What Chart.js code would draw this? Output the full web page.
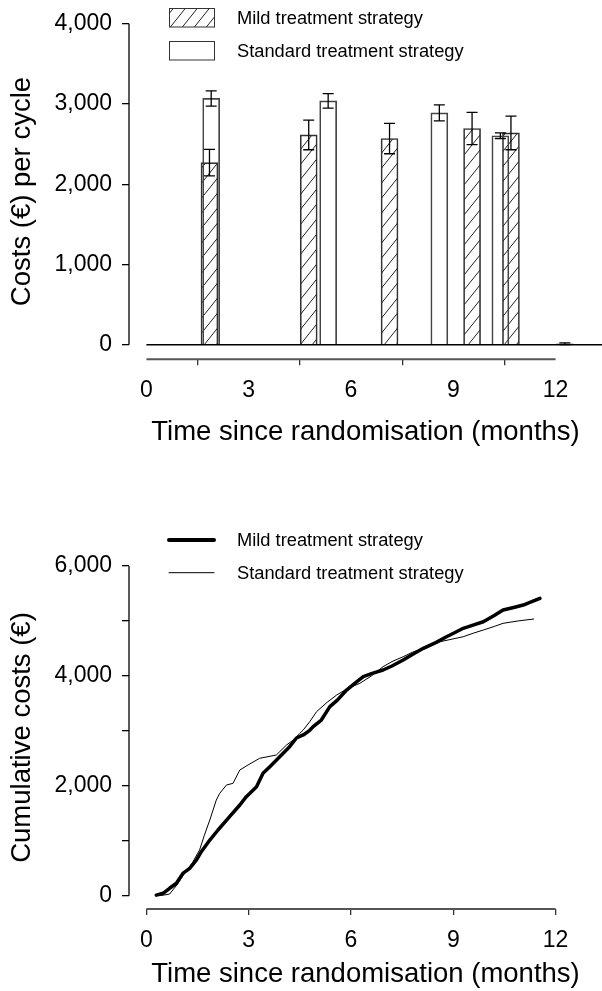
<!DOCTYPE html>
<html>
<head>
<meta charset="utf-8">
<script src="https://cdn.jsdelivr.net/npm/chart.js@4/dist/chart.umd.min.js"></script>
<style>
    html, body { margin: 0; padding: 0; background: #fff; }
    #wrap1 { position: absolute; left: 0; top: 0; width: 602px; height: 455px; }
    #wrap2 { position: absolute; left: 0; top: 455px; width: 602px; height: 536px; }
</style>
</head>
<body>
<div id="wrap1"><canvas id="costChart"></canvas></div>
<div id="wrap2"><canvas id="cumChart"></canvas></div>
<script>
// costs per cycle (top panel)
const mildMonths = [1.85, 4.76, 7.13, 9.55, 10.69, 12.27];
const mildCosts = [2270, 2615, 2570, 2695, 2640, 12];
const mildErr = [165, 185, 190, 200, 210, 10];
const stdMonths = [1.90, 5.33, 8.59, 10.38];
const stdCosts = [3070, 3040, 2890, 2605];
const stdErr = [95, 90, 100, 35];

// cumulative costs (bottom panel)
const mildTime = [0.29, 0.49, 0.68, 0.88, 1.07, 1.27, 1.47, 1.61, 1.86, 2.1, 2.44, 2.74, 2.93, 3.23, 3.42, 3.62, 3.91, 4.2, 4.4, 4.6, 4.79, 4.89, 5.13, 5.38, 5.6, 5.87, 6.1, 6.36, 6.6, 6.94, 7.2, 7.53, 7.8, 8.12, 8.5, 8.8, 9.05, 9.29, 9.6, 9.88, 10.2, 10.46, 10.8, 11.05, 11.3, 11.54];
const mildCum = [10, 44, 135, 226, 407, 499, 650, 801, 1013, 1196, 1438, 1651, 1802, 1984, 2227, 2348, 2530, 2712, 2870, 2925, 3010, 3076, 3197, 3440, 3560, 3743, 3860, 3986, 4040, 4107, 4180, 4289, 4390, 4502, 4610, 4713, 4790, 4866, 4930, 4986, 5100, 5199, 5250, 5290, 5350, 5412];
const stdTime = [0.35, 0.5, 0.68, 0.9, 1.12, 1.35, 1.56, 1.7, 1.86, 2.05, 2.15, 2.35, 2.54, 2.74, 2.98, 3.32, 3.81, 4.11, 4.3, 4.5, 4.6, 4.79, 4.99, 5.3, 5.58, 5.9, 6.26, 6.6, 6.94, 7.2, 7.53, 7.8, 8.12, 8.61, 9.29, 9.6, 9.88, 10.2, 10.46, 10.9, 11.37];
const stdCum = [0, 10, 30, 200, 407, 600, 832, 1100, 1378, 1741, 1863, 2015, 2045, 2288, 2379, 2500, 2560, 2743, 2830, 2955, 3016, 3167, 3349, 3520, 3652, 3770, 3865, 4000, 4168, 4260, 4349, 4430, 4502, 4622, 4713, 4780, 4835, 4900, 4957, 5000, 5036];

const xTicks = [0, 3, 6, 9, 12];
const costTicks = [0, 1000, 2000, 3000, 4000];
const cumTicks = [0, 1000, 2000, 3000, 4000, 5000, 6000];

const labelMild = 'Mild treatment strategy';
const labelStd = 'Standard treatment strategy';
const xTitle = 'Time since randomisation (months)';

const FONT = "'Liberation Sans', Arial, sans-serif";

function makeHatch() {
    const c = document.createElement('canvas');
    c.width = 12; c.height = 15;
    const g = c.getContext('2d');
    g.strokeStyle = '#222';
    g.lineWidth = 1;
    g.beginPath();
    g.moveTo(0, 15); g.lineTo(12, 0);
    g.moveTo(-12, 15); g.lineTo(0, 0);
    g.moveTo(12, 15); g.lineTo(24, 0);
    g.stroke();
    return g.createPattern(c, 'repeat');
}
const hatch = makeHatch();

// axis lines only over the labelled range (R style)
const axisLines = {
    id: 'axisLines',
    afterDraw(chart, args, opts) {
        const { ctx, chartArea, scales: { x, y } } = chart;
        ctx.save();
        ctx.strokeStyle = '#000';
        ctx.lineWidth = 1.3;
        ctx.beginPath();
        ctx.moveTo(chartArea.left, y.getPixelForValue(opts.yMin));
        ctx.lineTo(chartArea.left, y.getPixelForValue(opts.yMax));
        ctx.stroke();
        ctx.strokeStyle = '#555';
        ctx.lineWidth = 2;
        ctx.beginPath();
        ctx.moveTo(x.getPixelForValue(opts.xMin), chartArea.bottom);
        ctx.lineTo(x.getPixelForValue(opts.xMax), chartArea.bottom);
        ctx.stroke();
        ctx.restore();
    }
};

const errorBars = {
    id: 'errorBars',
    afterDatasetsDraw(chart) {
        const { ctx, scales: { x, y } } = chart;
        chart.data.datasets.forEach(ds => {
            if (!ds.errors) return;
            ctx.save();
            ctx.strokeStyle = '#000';
            ctx.lineWidth = 1.3;
            ds.data.forEach((p, j) => {
                const e = ds.errors[j];
                const px = x.getPixelForValue(p.x);
                const top = y.getPixelForValue(p.y + e);
                const bot = y.getPixelForValue(p.y - e);
                ctx.beginPath();
                ctx.moveTo(px, top); ctx.lineTo(px, bot);
                ctx.moveTo(px - 5.5, top); ctx.lineTo(px + 5.5, top);
                ctx.moveTo(px - 5.5, bot); ctx.lineTo(px + 5.5, bot);
                ctx.stroke();
            });
            ctx.restore();
        });
    }
};

// legend drawn in the top left of the plot, like the original
const boxLegend = {
    id: 'boxLegend',
    afterDraw(chart, args, opts) {
        const ctx = chart.ctx;
        ctx.save();
        ctx.font = '18.3px ' + FONT;
        ctx.fillStyle = '#000';
        ctx.textBaseline = 'middle';
        opts.items.forEach(it => {
            if (it.kind === 'box') {
                ctx.fillStyle = it.fill;
                ctx.fillRect(169, it.y - 9, 45, 18.5);
                ctx.strokeStyle = '#333';
                ctx.lineWidth = 1;
                ctx.strokeRect(169.5, it.y - 9, 45, 18.5);
            } else {
                ctx.strokeStyle = '#000';
                ctx.lineWidth = it.width;
                ctx.lineCap = 'round';
                ctx.beginPath();
                ctx.moveTo(169, it.y); ctx.lineTo(214, it.y);
                ctx.stroke();
            }
            ctx.fillStyle = '#000';
            ctx.fillText(it.text, 237, it.y + 1);
        });
        ctx.restore();
    }
};

function xScale(height, titlePad) {
    return {
        type: 'linear',
        min: -0.51, max: 13.36,
        offset: false,
        afterBuildTicks: s => { s.ticks = xTicks.map(v => ({ value: v })); },
        afterFit: s => { s.height = height; },
        border: { display: false },
        grid: { drawOnChartArea: false, tickLength: 6, color: '#333', lineWidth: 1.3 },
        ticks: { autoSkip: false, maxRotation: 0, padding: 12, color: '#000', font: { family: FONT, size: 23 } },
        title: { display: true, text: xTitle, color: '#000', font: { family: FONT, size: 27.5 }, padding: { top: 0, bottom: titlePad } }
    };
}

function yScale(min, max, tickVals, yTitle, labelEvery) {
    return {
        min: min, max: max,
        afterBuildTicks: s => { s.ticks = tickVals.map(v => ({ value: v })); },
        afterFit: s => { s.width = 129; },
        border: { display: false },
        grid: { drawOnChartArea: false, tickLength: 7, color: '#000', lineWidth: 1.3 },
        ticks: {
            autoSkip: false, padding: 10, color: '#000', font: { family: FONT, size: 23 },
            callback: v => (v % labelEvery === 0 ? v.toLocaleString('en-US') : '')
        },
        title: { display: true, text: yTitle, color: '#000', font: { family: FONT, size: 27.5 }, padding: { top: 6, bottom: 0 } }
    };
}

new Chart(document.getElementById('costChart'), {
    data: {
        datasets: [
            {
                type: 'line', label: 'zero',
                data: [{ x: 0, y: 0 }, { x: 13.36, y: 0 }],
                borderColor: '#000', borderWidth: 1.5, pointRadius: 0, order: 3
            },
            {
                type: 'bar', label: labelStd,
                data: stdMonths.map((m, i) => ({ x: m, y: stdCosts[i] })),
                errors: stdErr,
                backgroundColor: 'rgba(255,255,255,0)', borderColor: '#444', borderWidth: 1,
                barThickness: 17, grouped: false, order: 1
            },
            {
                type: 'bar', label: labelMild,
                data: mildMonths.map((m, i) => ({ x: m, y: mildCosts[i] })),
                errors: mildErr,
                backgroundColor: hatch, borderColor: '#333', borderWidth: 1,
                barThickness: 17, grouped: false, order: 2
            }
        ]
    },
    options: {
        responsive: true,
        maintainAspectRatio: false,
        animation: false,
        layout: { padding: { top: 15, left: 0, right: 0, bottom: 0 } },
        plugins: {
            legend: { display: false },
            tooltip: { enabled: false },
            axisLines: { xMin: 0, xMax: 12, yMin: 0, yMax: 4000 },
            boxLegend: { items: [
                { kind: 'box', fill: hatch, y: 17.5, text: labelMild },
                { kind: 'box', fill: 'rgba(255,255,255,0)', y: 50.5, text: labelStd }
            ] }
        },
        scales: {
            x: xScale(95.7, 6.5),
            y: yScale(-182, 4000, costTicks, 'Costs (€) per cycle', 1000)
        }
    },
    plugins: [axisLines, errorBars, boxLegend]
});

new Chart(document.getElementById('cumChart'), {
    type: 'line',
    data: {
        datasets: [
            {
                label: labelMild,
                data: mildTime.map((t, i) => ({ x: t, y: mildCum[i] })),
                borderColor: '#000', borderWidth: 3.5, borderCapStyle: 'round', borderJoinStyle: 'round',
                pointRadius: 0, tension: 0
            },
            {
                label: labelStd,
                data: stdTime.map((t, i) => ({ x: t, y: stdCum[i] })),
                borderColor: '#000', borderWidth: 1, pointRadius: 0, tension: 0
            }
        ]
    },
    options: {
        responsive: true,
        maintainAspectRatio: false,
        animation: false,
        layout: { padding: { top: 111, left: 0, right: 0, bottom: 0 } },
        plugins: {
            legend: { display: false },
            tooltip: { enabled: false },
            axisLines: { xMin: 0, xMax: 12, yMin: 0, yMax: 6000 },
            boxLegend: { items: [
                { kind: 'line', width: 4, y: 85, text: labelMild },
                { kind: 'line', width: 1, y: 117.7, text: labelStd }
            ] }
        },
        scales: {
            x: xScale(82, 0),
            y: yScale(-242, 6000, cumTicks, 'Cumulative costs (€)', 2000)
        }
    },
    plugins: [axisLines, boxLegend]
});
</script>
</body>
</html>
